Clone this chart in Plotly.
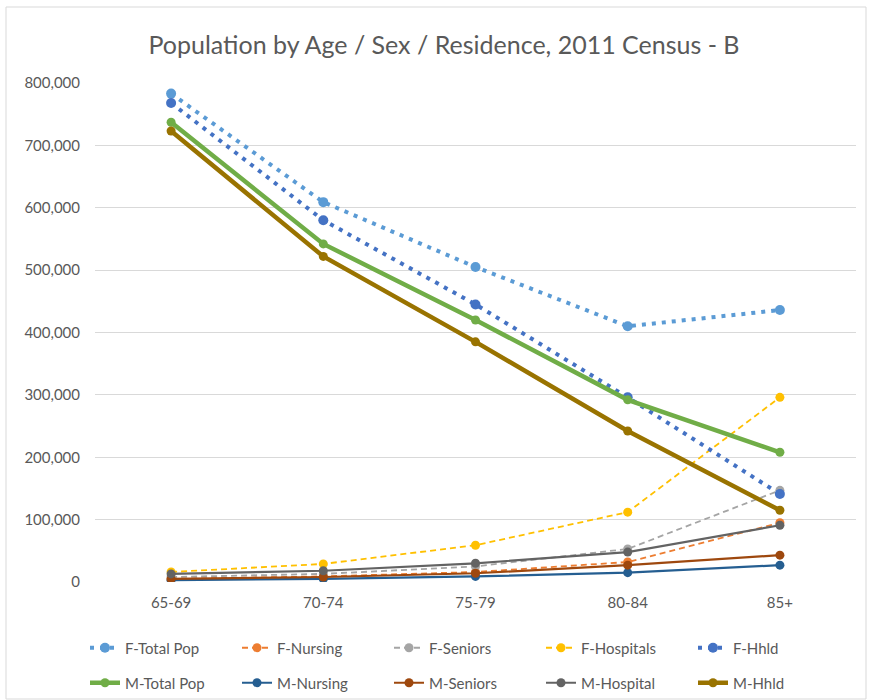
import plotly.graph_objects as go

# Age groups on the category axis
age_groups = ["65-69", "70-74", "75-79", "80-84", "85+"]

# Female series
f_total_pop = [783000, 609000, 505000, 410000, 436000]
f_nursing = [5000, 9000, 16000, 32000, 95000]
f_seniors = [8000, 13000, 25000, 53000, 147000]
f_hospitals = [16000, 29000, 59000, 112000, 296000]
f_hhld = [768000, 580000, 445000, 296000, 141000]

# Male series
m_total_pop = [737000, 542000, 420000, 292000, 208000]
m_nursing = [3000, 5000, 9000, 15000, 27000]
m_seniors = [5000, 8000, 14000, 27000, 43000]
m_hospital = [13000, 18000, 30000, 48000, 91000]
m_hhld = [723000, 522000, 385000, 242000, 115000]

FONT = "Lato"
TEXT = "#595959"

# name, values, colour, line width, dash, marker size, legend
series = [
    ("F-Total Pop", f_total_pop, "#5B9BD5", 4, "4px,6px", 10, "legend"),
    ("F-Nursing", f_nursing, "#ED7D31", 1.8, "6px,4px", 9, "legend"),
    ("F-Seniors", f_seniors, "#A5A5A5", 1.8, "6px,4px", 9, "legend"),
    ("F-Hospitals", f_hospitals, "#FFC000", 1.8, "6px,4px", 9, "legend"),
    ("F-Hhld", f_hhld, "#4472C4", 4, "4px,6px", 10, "legend"),
    ("M-Total Pop", m_total_pop, "#70AD47", 4.5, "solid", 9, "legend2"),
    ("M-Nursing", m_nursing, "#255E91", 2.2, "solid", 9, "legend2"),
    ("M-Seniors", m_seniors, "#9E480E", 2.2, "solid", 9, "legend2"),
    ("M-Hospital", m_hospital, "#636363", 2.2, "solid", 9, "legend2"),
    ("M-Hhld", m_hhld, "#997300", 4.5, "solid", 9, "legend2"),
]

fig = go.Figure()
for name, vals, color, lw, dash, ms, leg in series:
    fig.add_trace(go.Scatter(
        x=age_groups, y=vals, name=name, mode="lines+markers",
        line=dict(color=color, width=lw, dash=dash),
        marker=dict(color=color, size=ms, symbol="circle"),
        legend=leg,
    ))

L, R, T, B = 95, 13, 83, 118
W, H = 869, 700
pw, ph = W - L - R, H - T - B

def px_x(x):
    return (x - L) / pw

def px_y(y):
    return (H - B - y) / ph

legend_common = dict(
    orientation="h", xanchor="left", yanchor="middle",
    font=dict(family=FONT, size=15, color=TEXT),
    entrywidth=107, entrywidthmode="pixels",
    bgcolor="rgba(0,0,0,0)", itemwidth=30,
)

fig.update_layout(
    width=W, height=H,
    margin=dict(l=L, r=R, t=T, b=B, autoexpand=False),
    paper_bgcolor="white", plot_bgcolor="white",
    font=dict(family=FONT, color=TEXT),
    title=dict(
        text="Population by Age / Sex / Residence, 2011 Census - B",
        font=dict(family=FONT, size=25, color=TEXT),
        x=px_x(444), xref="paper", xanchor="center",
        y=1 - 45 / H, yref="container", yanchor="middle",
    ),
    legend=dict(x=px_x(85), y=px_y(648), **legend_common),
    legend2=dict(x=px_x(85), y=px_y(683), **legend_common),
    xaxis=dict(
        type="category", range=[-0.5, 4.5],
        showgrid=False, zeroline=False, showline=False,
        tickfont=dict(family=FONT, size=15, color=TEXT),
        ticklabelstandoff=10,
    ),
    yaxis=dict(
        range=[0, 800000], dtick=100000, tickformat=",d",
        showgrid=True, gridcolor="#D9D9D9", gridwidth=1,
        zeroline=False, showline=False,
        tickfont=dict(family=FONT, size=15, color=TEXT),
        ticklabelstandoff=14,
    ),
    shapes=[dict(
        type="rect", xref="paper", yref="paper",
        x0=px_x(6), x1=px_x(866), y0=px_y(699), y1=px_y(7),
        line=dict(color="#D9D9D9", width=1), fillcolor="rgba(0,0,0,0)",
        layer="below",
    )],
)

fig.write_html("out.html")
